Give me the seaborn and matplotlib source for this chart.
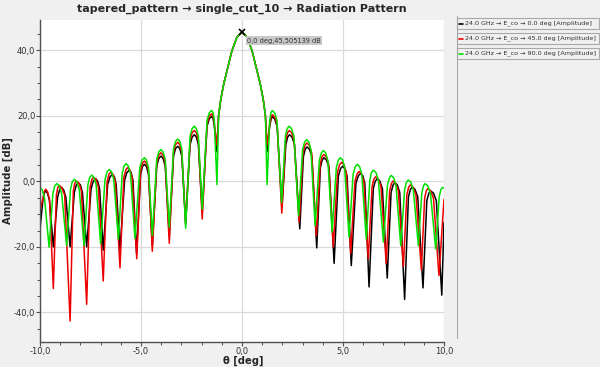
import numpy as np
import pandas as pd
import matplotlib
matplotlib.use("Agg")
import matplotlib.pyplot as plt
from matplotlib.patches import Rectangle
from matplotlib.lines import Line2D
from matplotlib.ticker import MultipleLocator, FuncFormatter
import seaborn as sns

title = "tapered_pattern \u2192 single_cut_10 \u2192 Radiation Pattern"
x_label = "\u03b8 [deg]"
y_label = "Amplitude [dB]"
series_labels = [
    "24.0 GHz \u2192 E_co \u2192 0.0 deg [Amplitude]",
    "24.0 GHz \u2192 E_co \u2192 45.0 deg [Amplitude]",
    "24.0 GHz \u2192 E_co \u2192 90.0 deg [Amplitude]",
]
series_colors = ["#000000", "#ee0000", "#00e000"]
peak_label = "0,0 deg,45,505139 dB"
peak_x = 0.0
peak_y = 45.505139

# main lobe (shared by all cuts)
main_x = [-1.16, -1.05, -0.9, -0.75, -0.5, -0.25, 0.0, 0.25, 0.5, 0.75, 0.9, 1.05, 1.16]
main_y = [20.0, 25.0, 29.8, 33.5, 39.8, 44.0, 45.5, 44.0, 39.8, 33.5, 29.8, 25.0, 20.0]

# 0 deg cut (black)
black_left_x = [-10.0, -9.86, -9.79, -9.72, -9.63, -9.53, -9.34,
                -9.13, -9.03, -8.93, -8.83, -8.72, -8.51,
                -8.30, -8.20, -8.10, -8.00, -7.90, -7.69,
                -7.47, -7.36, -7.24, -7.15, -7.05, -6.87,
                -6.65, -6.53, -6.42, -6.32, -6.23, -6.04,
                -5.81, -5.70, -5.58, -5.49, -5.40, -5.22,
                -5.02, -4.93, -4.83, -4.73, -4.63, -4.44,
                -4.22, -4.12, -4.01, -3.91, -3.80, -3.60,
                -3.39, -3.29, -3.18, -3.08, -2.98, -2.79,
                -2.57, -2.47, -2.36, -2.26, -2.16, -1.97,
                -1.73, -1.62, -1.50, -1.43, -1.37, -1.24]
black_left_y = [-14.5, -6.0, -3.6, -2.9, -3.6, -5.9, -20.0,
                -4.9, -2.6, -1.9, -2.6, -4.9, -20.0,
                -3.4, -1.1, -0.4, -1.1, -3.4, -20.0,
                -2.2, 0.1, 0.8, 0.1, -2.2, -21.0,
                -0.9, 1.4, 2.1, 1.4, -0.9, -21.0,
                0.4, 2.7, 3.4, 2.7, 0.4, -22.0,
                2.2, 4.5, 5.2, 4.5, 2.2, -19.6,
                4.7, 7.0, 7.7, 7.0, 4.7, -16.6,
                7.7, 10.0, 10.7, 10.0, 7.7, -13.0,
                11.2, 13.5, 14.2, 13.5, 11.2, -9.5,
                16.8, 19.1, 19.8, 19.1, 16.8, 9.0]
black_right_x = [1.24, 1.37, 1.44, 1.50, 1.62, 1.74, 1.98,
                 2.17, 2.26, 2.35, 2.48, 2.60, 2.86,
                 3.04, 3.13, 3.22, 3.34, 3.46, 3.70,
                 3.88, 3.97, 4.06, 4.18, 4.31, 4.56,
                 4.77, 4.88, 4.98, 5.09, 5.20, 5.41,
                 5.64, 5.76, 5.87, 5.98, 6.08, 6.29,
                 6.50, 6.60, 6.70, 6.82, 6.95, 7.19,
                 7.38, 7.48, 7.57, 7.69, 7.81, 8.05,
                 8.24, 8.34, 8.43, 8.56, 8.70, 8.96,
                 9.15, 9.25, 9.34, 9.48, 9.62, 9.89, 10.0]
black_right_y = [9.0, 16.7, 19.0, 19.7, 19.0, 16.7, -8.0,
                 11.2, 13.5, 14.2, 13.5, 11.2, -14.5,
                 7.5, 9.8, 10.5, 9.8, 7.5, -20.3,
                 4.2, 6.5, 7.2, 6.5, 4.2, -25.0,
                 1.6, 3.9, 4.6, 3.9, 1.6, -25.7,
                 -0.6, 1.7, 2.4, 1.7, -0.6, -32.2,
                 -2.2, 0.1, 0.8, 0.1, -2.2, -29.5,
                 -3.4, -1.1, -0.4, -1.1, -3.4, -36.0,
                 -4.7, -2.4, -1.7, -2.4, -4.7, -32.5,
                 -5.9, -3.6, -2.9, -3.6, -5.9, -34.7, -12.5]

# 45 deg cut (red)
red_left_x = [-10.0, -9.86, -9.79, -9.72, -9.63, -9.53, -9.34,
              -9.19, -9.12, -9.05, -8.92, -8.78, -8.51,
              -8.35, -8.28, -8.20, -8.07, -7.95, -7.69,
              -7.52, -7.43, -7.35, -7.23, -7.11, -6.87,
              -6.68, -6.59, -6.50, -6.38, -6.27, -6.04,
              -5.85, -5.75, -5.66, -5.55, -5.44, -5.21,
              -5.02, -4.93, -4.83, -4.73, -4.63, -4.44,
              -4.22, -4.12, -4.01, -3.91, -3.80, -3.60,
              -3.39, -3.29, -3.18, -3.08, -2.98, -2.79,
              -2.57, -2.47, -2.36, -2.26, -2.16, -1.97,
              -1.73, -1.62, -1.50, -1.43, -1.37, -1.24]
red_left_y = [-9.0, -5.4, -3.1, -2.4, -3.1, -5.4, -32.7,
              -4.2, -1.9, -1.2, -1.9, -4.2, -42.6,
              -2.9, -0.6, 0.1, -0.6, -2.9, -37.5,
              -1.7, 0.6, 1.3, 0.6, -1.7, -30.4,
              -0.2, 2.1, 2.8, 2.1, -0.2, -26.4,
              1.2, 3.5, 4.2, 3.5, 1.2, -23.6,
              3.2, 5.5, 6.2, 5.5, 3.2, -21.3,
              5.7, 8.0, 8.7, 8.0, 5.7, -18.9,
              8.9, 11.2, 11.9, 11.2, 8.9, -12.5,
              12.5, 14.8, 15.5, 14.8, 12.5, -11.5,
              17.6, 19.9, 20.6, 19.9, 17.6, 11.0]
red_right_x = [1.24, 1.37, 1.44, 1.50, 1.62, 1.74, 1.97,
               2.16, 2.25, 2.34, 2.46, 2.58, 2.83,
               3.02, 3.12, 3.21, 3.33, 3.45, 3.68,
               3.87, 3.96, 4.05, 4.17, 4.29, 4.52,
               4.73, 4.83, 4.93, 5.04, 5.16, 5.38,
               5.59, 5.70, 5.80, 5.91, 6.03, 6.25,
               6.44, 6.53, 6.62, 6.75, 6.88, 7.14,
               7.31, 7.40, 7.48, 7.61, 7.74, 7.99,
               8.16, 8.25, 8.33, 8.47, 8.61, 8.88,
               9.04, 9.12, 9.20, 9.34, 9.48, 9.75, 10.0]
red_right_y = [11.0, 17.3, 19.6, 20.3, 19.6, 17.3, -9.7,
               12.5, 14.8, 15.5, 14.8, 12.5, -12.5,
               8.7, 11.0, 11.7, 11.0, 8.7, -16.6,
               5.2, 7.5, 8.2, 7.5, 5.2, -20.0,
               2.8, 5.1, 5.8, 5.1, 2.8, -22.0,
               0.0, 2.3, 3.0, 2.3, 0.0, -23.6,
               -1.6, 0.7, 1.4, 0.7, -1.6, -25.0,
               -2.9, -0.6, 0.1, -0.6, -2.9, -26.0,
               -4.1, -1.8, -1.1, -1.8, -4.1, -27.0,
               -5.2, -2.9, -2.2, -2.9, -5.2, -28.7, -5.5]

# 90 deg cut (green)
green_left_x = [-10.0, -9.89, -9.78, -9.55,
                -9.36, -9.27, -9.17, -9.05, -8.93, -8.68,
                -8.49, -8.40, -8.30, -8.18, -8.06, -7.82,
                -7.63, -7.54, -7.44, -7.33, -7.22, -7.00,
                -6.78, -6.68, -6.57, -6.46, -6.35, -6.12,
                -5.93, -5.84, -5.74, -5.63, -5.52, -5.30,
                -5.06, -4.95, -4.83, -4.73, -4.63, -4.44,
                -4.22, -4.12, -4.01, -3.91, -3.80, -3.60,
                -3.39, -3.29, -3.18, -3.08, -2.98, -2.79,
                -2.57, -2.47, -2.36, -2.26, -2.16, -1.97,
                -1.73, -1.62, -1.50, -1.43, -1.37, -1.24]
green_left_y = [-1.9, -2.6, -4.9, -20.1,
                -3.7, -1.4, -0.7, -1.4, -3.7, -19.6,
                -2.4, -0.1, 0.6, -0.1, -2.4, -19.6,
                -1.1, 1.2, 1.9, 1.2, -1.1, -19.0,
                0.6, 2.9, 3.6, 2.9, 0.6, -17.6,
                2.4, 4.7, 5.4, 4.7, 2.4, -17.5,
                4.2, 6.5, 7.2, 6.5, 4.2, -16.6,
                6.7, 9.0, 9.7, 9.0, 6.7, -14.0,
                9.9, 12.2, 12.9, 12.2, 9.9, -14.3,
                13.8, 16.1, 16.8, 16.1, 13.8, -8.5,
                18.6, 20.9, 21.6, 20.9, 18.6, -1.0]
green_right_x = [1.24, 1.37, 1.43, 1.50, 1.62, 1.73, 1.96,
                 2.15, 2.24, 2.33, 2.45, 2.57, 2.80,
                 3.00, 3.10, 3.20, 3.31, 3.41, 3.62,
                 3.83, 3.93, 4.03, 4.14, 4.25, 4.46,
                 4.67, 4.77, 4.87, 4.98, 5.08, 5.30,
                 5.50, 5.61, 5.71, 5.82, 5.93, 6.15,
                 6.33, 6.41, 6.50, 6.63, 6.75, 7.00,
                 7.20, 7.30, 7.39, 7.51, 7.62, 7.86,
                 8.05, 8.14, 8.23, 8.36, 8.48, 8.73,
                 8.90, 8.98, 9.06, 9.20, 9.33, 9.59,
                 9.76, 9.84, 9.92, 10.0]
green_right_y = [-1.0, 18.6, 20.9, 21.6, 20.9, 18.6, -6.5,
                 13.8, 16.1, 16.8, 16.1, 13.8, -10.5,
                 9.7, 12.0, 12.7, 12.0, 9.7, -13.5,
                 6.4, 8.7, 9.4, 8.7, 6.4, -15.5,
                 4.2, 6.5, 7.2, 6.5, 4.2, -17.0,
                 2.2, 4.5, 5.2, 4.5, 2.2, -17.6,
                 0.4, 2.7, 3.4, 2.7, 0.4, -18.5,
                 -1.2, 1.1, 1.8, 1.1, -1.2, -19.6,
                 -2.6, -0.3, 0.4, -0.3, -2.6, -19.6,
                 -3.7, -1.4, -0.7, -1.4, -3.7, -20.6,
                 -4.9, -2.6, -1.9, -2.0]

series_x = [black_left_x + main_x + black_right_x,
            red_left_x + main_x + red_right_x,
            green_left_x + main_x + green_right_x]
series_y = [black_left_y + main_y + black_right_y,
            red_left_y + main_y + red_right_y,
            green_left_y + main_y + green_right_y]

frames = []
for lab, xs, ys in zip(series_labels, series_x, series_y):
    frames.append(pd.DataFrame({"theta": xs, "amp": ys, "series": lab}))
df = pd.concat(frames, ignore_index=True)

sns.set_style("white")
plt.rcParams["font.family"] = ["DejaVu Sans"]

BG = "#f0f0f0"
W, H = 600, 367
fig = plt.figure(figsize=(6.0, 3.67), dpi=100, facecolor=BG)
ax = fig.add_axes([40 / W, 1 - 342 / H, 404 / W, 322 / H])
ax.set_facecolor("white")

sns.lineplot(data=df, x="theta", y="amp", hue="series", hue_order=series_labels,
             palette=series_colors, estimator=None, sort=False, linewidth=1.1,
             legend=False, ax=ax)

ax.set_xlim(-10, 10)
ax.set_ylim(-49, 49.2)
ax.xaxis.set_major_locator(MultipleLocator(5))
ax.xaxis.set_minor_locator(MultipleLocator(1))
ax.yaxis.set_major_locator(MultipleLocator(20))
ax.yaxis.set_minor_locator(MultipleLocator(5))
fmt = FuncFormatter(lambda v, p: f"{v:.1f}".replace(".", ",").replace("-0,0", "0,0"))
ax.xaxis.set_major_formatter(fmt)
ax.yaxis.set_major_formatter(fmt)
ax.grid(True, which="major", color="#dadada", linewidth=0.9)
ax.set_axisbelow(True)
for s in ["top", "right"]:
    ax.spines[s].set_visible(False)
for s in ["left", "bottom"]:
    ax.spines[s].set_color("#505050")
    ax.spines[s].set_linewidth(1.0)
ax.tick_params(which="major", direction="out", length=3, width=0.8, color="#505050",
               labelsize=6.0, labelcolor="#303030", pad=0.3, left=True, bottom=True)
ax.tick_params(which="minor", direction="out", length=2, width=0.7, color="#505050",
               left=True, bottom=True)

ax.set_xlabel(x_label, fontsize=7.2, fontweight="bold")
ax.set_ylabel(y_label, fontsize=7.3, fontweight="bold")
ax.xaxis.set_label_coords((243 - 40) / 404, -(356 - 342) / 322)
ax.yaxis.set_label_coords(-(40 - 13) / 404, 0.5)
ax.set_title(title, fontsize=8, fontweight="bold", pad=6)

ax.plot([peak_x], [peak_y], marker="x", color="black", markersize=5, mew=1.2)
ax.text(peak_x + 0.25, peak_y - 2.6, peak_label, fontsize=4.8, color="#303030",
        ha="left", va="center",
        bbox=dict(boxstyle="square,pad=0.2", facecolor="#c8c8c8", edgecolor="none"))

# right-hand legend panel
fig.add_artist(Line2D([456.5 / W, 456.5 / W], [1 - 16 / H, 1 - 338 / H],
                      transform=fig.transFigure, color="#a8a8a8", linewidth=0.8))
entry_y = [23.5, 38.5, 53.5]
for lab, col, yy in zip(series_labels, series_colors, entry_y):
    top = 1 - (yy - 5.5) / H
    h = 11 / H
    fig.add_artist(Rectangle((457 / W, top - h), 142 / W, h, transform=fig.transFigure,
                             facecolor=BG, edgecolor="#a8a8a8", linewidth=0.8))
    fig.add_artist(Line2D([459 / W, 463 / W], [1 - yy / H, 1 - yy / H],
                          transform=fig.transFigure, color=col, linewidth=1.2))
    fig.text(465 / W, 1 - yy / H, lab, fontsize=4.6, color="#303030",
             ha="left", va="center")

fig.savefig("out.png", dpi=100, facecolor=BG)
